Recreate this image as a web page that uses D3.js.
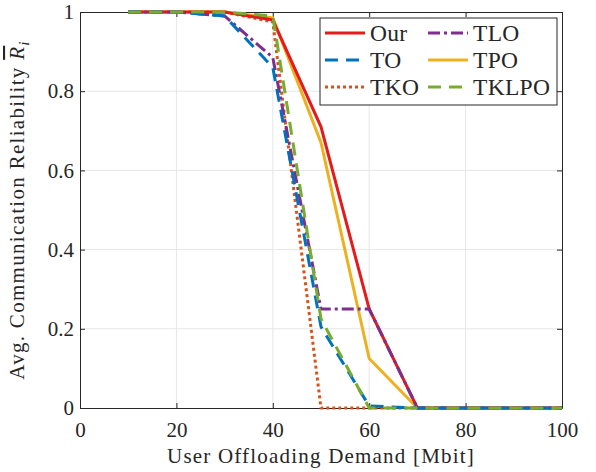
<!DOCTYPE html>
<html>
<head>
<meta charset="utf-8">
<script src="https://cdn.jsdelivr.net/npm/d3@7"></script>
<style>
  body { margin: 0; background: #fff; }
  svg text { font-family: "Liberation Serif", "DejaVu Serif", serif; fill: #262626; }
</style>
</head>
<body>
<div id="chart"></div>
<script>
// demand levels [Mbit]
const demand = [10, 20, 30, 40, 50, 60, 70, 80, 90, 100];

// avg. reliability per scheme
const ourVals   = [1, 1, 1, 0.98, 0.71, 0.25, 0, 0, 0, 0];
const toVals    = [1, 1, 0.99, 0.86, 0.205, 0.005, 0, 0, 0, 0];
const tkoVals   = [1, 1, 1, 0.975, 0, 0, 0, 0, 0, 0];
const tloVals   = [1, 1, 0.99, 0.885, 0.25, 0.25, 0, 0, 0, 0];
const tpoVals   = [1, 1, 1, 0.985, 0.67, 0.125, 0, 0, 0, 0];
const tklpoVals = [1, 1, 1, 0.99, 0.225, 0, 0, 0, 0, 0];

const xTicks = [0, 20, 40, 60, 80, 100];
const yTicks = [0, 0.2, 0.4, 0.6, 0.8, 1];

const series = [
    { name: "Our",   values: ourVals,   color: "#e41a1c", dash: null },
    { name: "TO",    values: toVals,    color: "#0072BD", dash: "13,8" },
    { name: "TKO",   values: tkoVals,   color: "#D95319", dash: "3,3" },
    { name: "TLO",   values: tloVals,   color: "#7E2F8E", dash: "12,4,3,4" },
    { name: "TPO",   values: tpoVals,   color: "#EDB120", dash: null },
    { name: "TKLPO", values: tklpoVals, color: "#77AC30", dash: "13,8" }
];
// draw order (last on top)
const drawOrder = ["TKO", "TPO", "Our", "TLO", "TO", "TKLPO"];

const width = 596, height = 472;
const margin = { top: 12, right: 34, bottom: 64, left: 80 };
const innerW = width - margin.left - margin.right;
const innerH = height - margin.top - margin.bottom;

const svg = d3.select("#chart").append("svg")
    .attr("width", width)
    .attr("height", height);

const g = svg.append("g")
    .attr("transform", `translate(${margin.left},${margin.top})`);

const x = d3.scaleLinear().domain([0, 100]).range([0, innerW]);
const y = d3.scaleLinear().domain([0, 1]).range([innerH, 0]);

// grid
g.append("g").selectAll("line.vg")
    .data(xTicks.slice(1, -1))
    .enter().append("line")
    .attr("x1", d => x(d)).attr("x2", d => x(d))
    .attr("y1", 0).attr("y2", innerH)
    .attr("stroke", "#e6e6e6").attr("stroke-width", 1);
g.append("g").selectAll("line.hg")
    .data(yTicks.slice(1, -1))
    .enter().append("line")
    .attr("x1", 0).attr("x2", innerW)
    .attr("y1", d => y(d)).attr("y2", d => y(d))
    .attr("stroke", "#e6e6e6").attr("stroke-width", 1);

// axes
const fmtY = d => d === 0 ? "0" : d === 1 ? "1" : d.toString();
g.append("g")
    .attr("transform", `translate(0,${innerH})`)
    .call(d3.axisBottom(x).tickValues(xTicks).tickSizeInner(-5).tickSizeOuter(0).tickPadding(14));
g.append("g")
    .call(d3.axisLeft(y).tickValues(yTicks).tickFormat(fmtY).tickSizeInner(-5).tickSizeOuter(0).tickPadding(6));
g.append("g")
    .call(d3.axisTop(x).tickValues(xTicks).tickFormat("").tickSizeInner(-5).tickSizeOuter(0));
g.append("g")
    .attr("transform", `translate(${innerW},0)`)
    .call(d3.axisRight(y).tickValues(yTicks).tickFormat("").tickSizeInner(-5).tickSizeOuter(0));

svg.selectAll(".domain").attr("stroke", "#262626").attr("stroke-width", 1);
svg.selectAll(".tick line").attr("stroke", "#262626");
svg.selectAll(".tick text").style("font-size", "21px").attr("fill", "#262626");

// lines
const line = d3.line()
    .x((d, i) => x(demand[i]))
    .y(d => y(d));

drawOrder.forEach(name => {
    let s = series.find(d => d.name === name);
    g.append("path")
        .datum(s.values)
        .attr("d", line)
        .attr("fill", "none")
        .attr("stroke", s.color)
        .attr("stroke-width", 3)
        .attr("stroke-dasharray", s.dash)
        .attr("stroke-linejoin", "miter");
});

// axis labels
svg.append("text")
    .attr("x", margin.left + innerW / 2)
    .attr("y", 463)
    .attr("text-anchor", "middle")
    .style("font-size", "21px")
    .style("letter-spacing", "1.2px")
    .text("User Offloading Demand [Mbit]");

let yl = svg.append("text")
    .attr("transform", `translate(24,${margin.top + innerH / 2}) rotate(-90)`)
    .attr("text-anchor", "middle")
    .style("font-size", "21px")
    .style("letter-spacing", "1.3px");
yl.append("tspan").text("Avg. Communication Reliability ");
yl.append("tspan").style("font-style", "italic").style("text-decoration", "overline").text("R");
yl.append("tspan").style("font-style", "italic").style("font-size", "15px").attr("dy", 5).text("i");

// legend
let legend = svg.append("g").attr("transform", "translate(320,18)");
legend.append("rect")
    .attr("width", 237).attr("height", 87)
    .attr("fill", "#fff").attr("stroke", "#262626").attr("stroke-width", 1);

series.forEach((s, i) => {
    let col = i < 3 ? 0 : 1, row = i % 3;
    let item = legend.append("g")
        .attr("transform", `translate(${5 + col * 103},${15 + row * 27})`);
    item.append("line")
        .attr("x1", 0).attr("x2", 40)
        .attr("stroke", s.color).attr("stroke-width", 3)
        .attr("stroke-dasharray", s.dash);
    item.append("text")
        .attr("x", 45).attr("y", 8)
        .style("font-size", "23.5px")
        .style("letter-spacing", "0.3px")
        .text(s.name);
});
</script>
</body>
</html>
